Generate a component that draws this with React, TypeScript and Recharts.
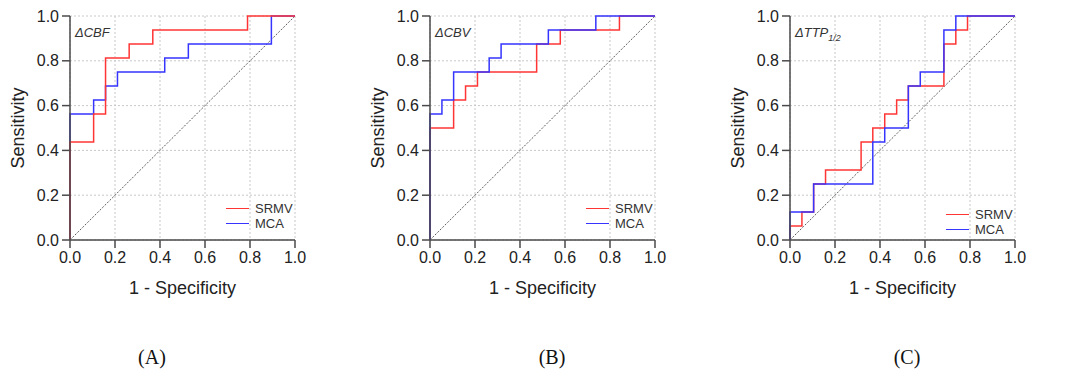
import React from 'react';
import { LineChart, Line, XAxis, YAxis, CartesianGrid } from 'recharts';

// shared axis ticks and labels
const axisTicks = [0, 0.2, 0.4, 0.6, 0.8, 1.0];
const seriesNames = ['SRMV', 'MCA'];
const panelLetters = ['(A)', '(B)', '(C)'];
const diagonalX = [0, 1];
const diagonalY = [0, 1];

// Panel A: ΔCBF
const cbfSrmvFpr = [0, 0, 0.105, 0.158, 0.263, 0.368, 0.789, 1.0];
const cbfSrmvTpr = [0, 0.4375, 0.5625, 0.8125, 0.875, 0.9375, 1.0, 1.0];
const cbfMcaFpr = [0, 0, 0.105, 0.158, 0.211, 0.421, 0.526, 0.895, 1.0];
const cbfMcaTpr = [0, 0.5625, 0.625, 0.6875, 0.75, 0.8125, 0.875, 1.0, 1.0];

// Panel B: ΔCBV
const cbvSrmvFpr = [0, 0, 0.105, 0.158, 0.211, 0.474, 0.579, 0.842, 1.0];
const cbvSrmvTpr = [0, 0.5, 0.625, 0.6875, 0.75, 0.875, 0.9375, 1.0, 1.0];
const cbvMcaFpr = [0, 0, 0.053, 0.105, 0.263, 0.316, 0.526, 0.737, 1.0];
const cbvMcaTpr = [0, 0.5625, 0.625, 0.75, 0.8125, 0.875, 0.9375, 1.0, 1.0];

// Panel C: ΔTTP1/2
const ttpSrmvFpr = [0, 0, 0.053, 0.105, 0.158, 0.316, 0.368, 0.421, 0.474, 0.526, 0.684, 0.737, 0.789, 1.0];
const ttpSrmvTpr = [0, 0.0625, 0.125, 0.25, 0.3125, 0.4375, 0.5, 0.5625, 0.625, 0.6875, 0.875, 0.9375, 1.0, 1.0];
const ttpMcaFpr = [0, 0, 0.105, 0.368, 0.421, 0.526, 0.579, 0.684, 0.737, 1.0];
const ttpMcaTpr = [0, 0.125, 0.25, 0.4375, 0.5, 0.6875, 0.75, 0.9375, 1.0, 1.0];

const RED = '#ff3535';
const BLUE = '#3535ff';
const AXIS = '#4a4a4a';
const TEXT = '#222';

const toPts = (xs: number[], ys: number[]) => xs.map((x, i) => ({ x, y: ys[i] }));

type PanelProps = {
  left: number;
  srmv: { x: number; y: number }[];
  mca: { x: number; y: number }[];
  redOnTop: boolean;
  title: React.ReactNode;
  letter: string;
  letterX: number;
  legendTop: number;
};

function Panel({ left, srmv, mca, redOnTop, title, letter, letterX, legendTop }: PanelProps) {
  const diag = toPts(diagonalX, diagonalY);
  const red = (
    <Line key="r" data={srmv} dataKey="y" type="stepAfter" stroke={RED} strokeWidth={1.5} dot={false} activeDot={false} isAnimationActive={false} />
  );
  const blue = (
    <Line key="b" data={mca} dataKey="y" type="stepAfter" stroke={BLUE} strokeWidth={1.5} dot={false} activeDot={false} isAnimationActive={false} />
  );
  return (
    <>
      <div style={{ position: 'absolute', left, top: 0, width: 325, height: 300 }}>
        <LineChart width={325} height={300} margin={{ top: 16, right: 30, bottom: 0, left: 0 }}>
          <CartesianGrid stroke="#c8c8c8" strokeDasharray="2 2" />
          <XAxis
            type="number"
            dataKey="x"
            domain={[0, 1]}
            ticks={axisTicks}
            tickFormatter={(v: number) => v.toFixed(1)}
            height={60}
            tickSize={8}
            tickMargin={4}
            interval={0}
            axisLine={{ stroke: AXIS, strokeWidth: 1.5 }}
            tickLine={{ stroke: AXIS, strokeWidth: 1.5 }}
            tick={{ fill: TEXT, fontSize: 16 }}
            label={{ value: '1 - Specificity', position: 'insideBottom', offset: 6, fill: TEXT, fontSize: 18 }}
          />
          <YAxis
            type="number"
            domain={[0, 1]}
            ticks={axisTicks}
            tickFormatter={(v: number) => v.toFixed(1)}
            width={70}
            tickSize={8}
            tickMargin={3}
            interval={0}
            axisLine={{ stroke: AXIS, strokeWidth: 1.5 }}
            tickLine={{ stroke: AXIS, strokeWidth: 1.5 }}
            tick={{ fill: TEXT, fontSize: 16 }}
            label={{ value: 'Sensitivity', angle: -90, position: 'insideLeft', offset: 18, style: { textAnchor: 'middle' }, fill: TEXT, fontSize: 18 }}
          />
          <Line data={diag} dataKey="y" type="linear" stroke="#333" strokeWidth={0.8} strokeDasharray="2 1.5" dot={false} activeDot={false} isAnimationActive={false} />
          {redOnTop ? [blue, red] : [red, blue]}
        </LineChart>
      </div>
      <div style={{ position: 'absolute', left: left + 75, top: 25, fontStyle: 'italic', fontSize: 13, color: '#333', lineHeight: '16px' }}>
        {title}
      </div>
      <div style={{ position: 'absolute', left: left + 226, top: legendTop, fontSize: 13, color: '#333', lineHeight: '15px' }}>
        {[RED, BLUE].map((c, i) => (
          <div key={i} style={{ display: 'flex', alignItems: 'center', height: 15 }}>
            <div style={{ width: 23, height: 1.6, background: c, marginRight: 6 }} />
            <span>{seriesNames[i]}</span>
          </div>
        ))}
      </div>
      <div style={{ position: 'absolute', left: letterX - 40, width: 80, top: 345, textAlign: 'center', fontFamily: '"Liberation Serif", "Times New Roman", serif', fontSize: 20, color: '#111', lineHeight: '24px' }}>
        {letter}
      </div>
    </>
  );
}

export default function App() {
  return (
    <div style={{ position: 'absolute', left: 0, top: 0, width: 1080, height: 377, background: '#fff', fontFamily: '"Liberation Sans", Arial, sans-serif', overflow: 'hidden' }}>
      <Panel
        left={0}
        srmv={toPts(cbfSrmvFpr, cbfSrmvTpr)}
        mca={toPts(cbfMcaFpr, cbfMcaTpr)}
        redOnTop={true}
        title={<span>ΔCBF</span>}
        letter={panelLetters[0]}
        letterX={152}
        legendTop={201}
      />
      <Panel
        left={360}
        srmv={toPts(cbvSrmvFpr, cbvSrmvTpr)}
        mca={toPts(cbvMcaFpr, cbvMcaTpr)}
        redOnTop={false}
        title={<span>ΔCBV</span>}
        letter={panelLetters[1]}
        letterX={552}
        legendTop={201}
      />
      <Panel
        left={720}
        srmv={toPts(ttpSrmvFpr, ttpSrmvTpr)}
        mca={toPts(ttpMcaFpr, ttpMcaTpr)}
        redOnTop={false}
        title={<span>ΔTTP<sub style={{ fontSize: 9 }}>1/2</sub></span>}
        letter={panelLetters[2]}
        letterX={907}
        legendTop={207}
      />
    </div>
  );
}
